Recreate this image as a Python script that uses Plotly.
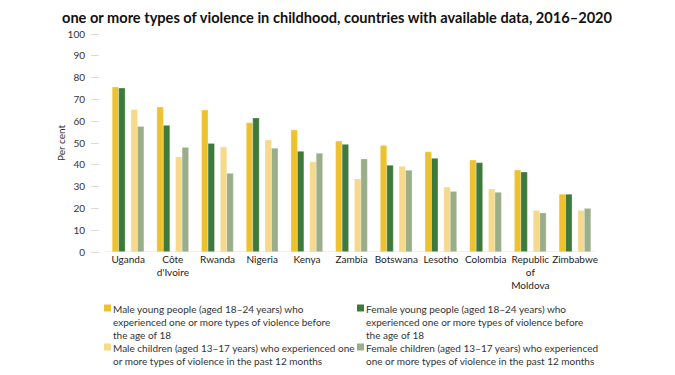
import plotly.graph_objects as go

countries = ["Uganda", "Côte<br>d'Ivoire", "Rwanda", "Nigeria", "Kenya", "Zambia",
             "Botswana", "Lesotho", "Colombia", "Republic<br>of<br>Moldova", "Zimbabwe"]
male_young = [75.7, 66.5, 65.1, 59.3, 56.0, 50.9, 48.9, 46.0, 42.2, 37.6, 26.5]
female_young = [75.2, 58.1, 49.8, 61.5, 46.2, 49.4, 39.8, 43.0, 41.0, 36.7, 26.5]
male_children = [65.4, 43.6, 48.2, 51.4, 41.4, 33.5, 39.3, 29.8, 28.9, 19.1, 19.1]
female_children = [57.6, 48.0, 36.1, 47.6, 45.3, 42.7, 37.5, 27.8, 27.4, 17.9, 20.0]

series_names = [
    "Male young people (aged 18–24 years) who<br>experienced one or more types of violence before<br>the age of 18",
    "Female young people (aged 18–24 years) who<br>experienced one or more types of violence before<br>the age of 18",
    "Male children (aged 13–17 years) who experienced one<br>or more types of violence in the past 12 months",
    "Female children (aged 13–17 years) who experienced<br>one or more types of violence in the past 12 months",
]
colors = ["#EEC22F", "#3E7A3B", "#F6D98B", "#99AE89"]
offsets = [-0.285, -0.14, 0.135, 0.28]
series = [male_young, female_young, male_children, female_children]

# page offset (body margin)
OFF = 8
PL, PR, PT, PB = 100 - OFF, 605 - OFF, 34 - OFF, 252 - OFF  # plot box in figure px
W, H = 675, 375
PW, PH = PR - PL, PB - PT


def px2paper(x, y):
    """page pixel -> paper coords"""
    return ((x - OFF) - PL) / PW, (PB - (y - OFF)) / PH


idx = list(range(len(countries)))
fig = go.Figure()
for vals, name, col, off in zip(series, series_names, colors, offsets):
    fig.add_trace(go.Bar(
        x=[i + off for i in idx], y=vals, name=name, width=0.145,
        marker=dict(color=col, line=dict(color="rgba(255,255,255,0.6)", width=0.5)),
        showlegend=False,
    ))

font_family = "Lato, 'Noto Sans', sans-serif"
fig.update_layout(
    width=W, height=H,
    margin=dict(l=PL, r=W - PR, t=PT, b=H - PB),
    paper_bgcolor="white", plot_bgcolor="white",
    barmode="overlay",
    font=dict(family=font_family, size=10, color="#333333"),
    xaxis=dict(range=[-0.63, 10.67], tickmode="array", tickvals=idx, ticktext=countries,
               showgrid=False, zeroline=False, showline=False, ticks="",
               tickfont=dict(size=10, color="#222222")),
    yaxis=dict(range=[0, 100], tickvals=list(range(0, 101, 10)), showgrid=False,
               zeroline=False, showline=False, ticks="outside", ticklen=8,
               tickcolor="#DDDDDD", tickwidth=1, ticklabelstandoff=4,
               tickfont=dict(size=10, color="#333333"),
               title=dict(text="Per cent", font=dict(size=10, color="#333333"), standoff=0)),
)

# baseline
fig.add_shape(type="line", xref="x", yref="y", x0=-0.51, x1=10.45, y0=0, y1=0,
              line=dict(color="#E0E0E0", width=1))

# title (top of the figure)
tx, ty = px2paper(337, 8)
fig.add_annotation(text="<b>one or more types of violence in childhood, countries with available data, 2016–2020</b>",
                   xref="paper", yref="paper", x=tx, y=ty, xanchor="center", yanchor="top",
                   showarrow=False, borderpad=0,
                   font=dict(size=14.6, color="#111111", family=font_family))

# manual legend
leg_pos = [(104, 308), (357, 308), (104, 347), (357, 347)]
for (px, py), name, col in zip(leg_pos, series_names, colors):
    x0, y0 = px2paper(px, py + 3.5)
    x1, y1 = px2paper(px + 7, py - 3.5)
    fig.add_shape(type="rect", xref="paper", yref="paper",
                  x0=x0, x1=x1, y0=y0, y1=y1, fillcolor=col, line=dict(width=0))
    ax, ay = px2paper(px + 7, py - 7.5)
    fig.add_annotation(text=name, xref="paper", yref="paper", x=ax, y=ay,
                       xanchor="left", yanchor="top", align="left", showarrow=False,
                       font=dict(size=10, color="#333333", family=font_family))

fig.write_html("out.html")
